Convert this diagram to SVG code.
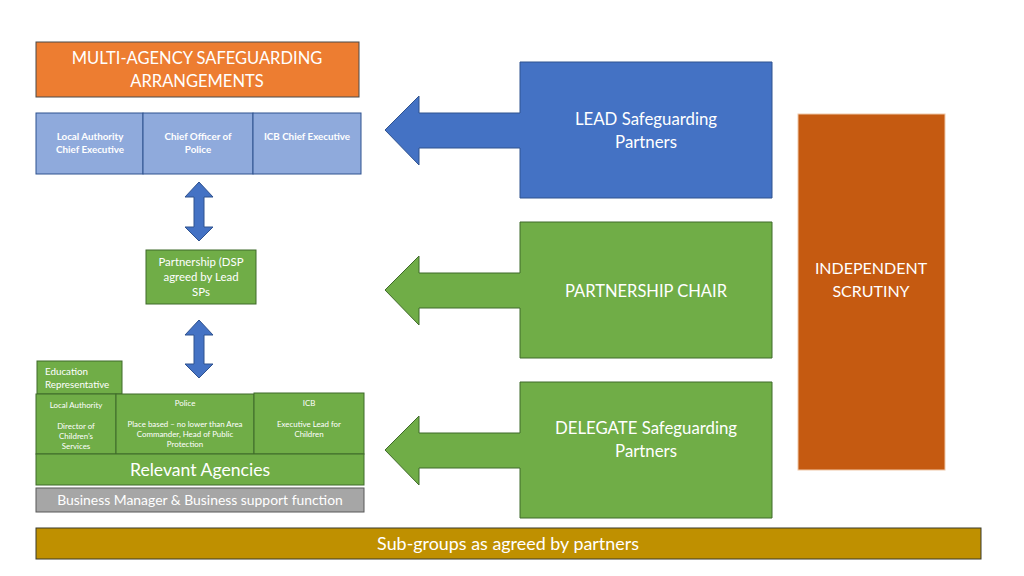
<svg xmlns="http://www.w3.org/2000/svg" width="1024" height="576" viewBox="0 0 1024 576">
<style>
text{font-family:Lato,"Open Sans","Liberation Sans",sans-serif;fill:#fff;text-anchor:middle}
.b{stroke:#2F528F;stroke-width:1}
.g{stroke:#3f6a2a;stroke-width:1}
.blue{fill:#4472C4}
.lblue{fill:#8FAADC}
.green{fill:#70AD47}
.t17{font-size:16.8px}
.t9b{font-size:9.8px;font-weight:bold}
.t7{font-size:7.9px}
</style>
<rect width="1024" height="576" fill="#fff"/>
<g id="connectors">
<polygon id="dbl-arrow-1" class="blue b" points="199,182 213,197 204,197 204,227 213,227 199,241 185,227 194,227 194,197 185,197"/>
<polygon id="dbl-arrow-2" class="blue b" points="199,320 213,335 204,335 204,364 213,364 199,378 185,364 194,364 194,335 185,335"/>
</g>
<g id="title">
<rect x="36" y="42" width="323" height="55" fill="#ED7D31" stroke="#4a4a4a" stroke-width="1"/>
<text font-size="16.5" x="197" y="64">MULTI-AGENCY SAFEGUARDING</text>
<text font-size="16.5" x="197" y="87">ARRANGEMENTS</text>
</g>
<g id="lead-row">
<rect x="36" y="113" width="107" height="61" class="lblue b"/>
<rect x="143" y="113" width="110" height="61" class="lblue b"/>
<rect x="253" y="113" width="108" height="61" class="lblue b"/>
<text class="t9b" x="90" y="140">Local Authority</text>
<text class="t9b" x="90" y="153">Chief Executive</text>
<text class="t9b" x="198" y="140">Chief Officer of</text>
<text class="t9b" x="198" y="153">Police</text>
<text class="t9b" x="307" y="140">ICB Chief Executive</text>
</g>
<g id="partnership">
<rect x="146" y="250" width="110" height="54" class="green g"/>
<text font-size="11.4" x="201" y="266">Partnership (DSP</text>
<text font-size="11.4" x="201" y="281">agreed by Lead</text>
<text font-size="11.4" x="201" y="296">SPs</text>
</g>
<g id="education">
<rect x="37" y="361" width="85" height="33" class="green g"/>
<text font-size="9.8" x="45" y="375" style="text-anchor:start">Education</text>
<text font-size="9.8" x="45" y="388" style="text-anchor:start">Representative</text>
</g>
<g id="agency-row">
<rect x="36" y="394" width="80" height="60" class="green g"/>
<rect x="116" y="394" width="138" height="60" class="green g"/>
<rect x="254" y="393" width="110" height="61" class="green g"/>
<text class="t7" x="76" y="408">Local Authority</text>
<text class="t7" x="76" y="429">Director of</text>
<text class="t7" x="76" y="439">Children’s</text>
<text class="t7" x="76" y="449">Services</text>
<text class="t7" x="185" y="406">Police</text>
<text class="t7" x="185" y="427">Place based – no lower than Area</text>
<text class="t7" x="185" y="437">Commander, Head of Public</text>
<text class="t7" x="185" y="447">Protection</text>
<text class="t7" x="309" y="406">ICB</text>
<text class="t7" x="309" y="427">Executive Lead for</text>
<text class="t7" x="309" y="437">Children</text>
</g>
<g id="relevant-agencies">
<rect x="36" y="454" width="328" height="31" class="green g"/>
<text font-size="17.6" x="200" y="476">Relevant Agencies</text>
</g>
<g id="business">
<rect x="36" y="488" width="328" height="24" fill="#A6A6A6" stroke="#595959" stroke-width="1"/>
<text font-size="13.9" x="200" y="505">Business Manager &amp; Business support function</text>
</g>
<g id="lead-sp">
<path class="blue b" d="M385,130 L419,96 L419,113 L520,113 L520,62 L772,62 L772,198 L520,198 L520,148 L419,148 L419,165 Z"/>
<text class="t17" x="646" y="125">LEAD Safeguarding</text>
<text class="t17" x="646" y="148">Partners</text>
</g>
<g id="partnership-chair">
<path class="green g" d="M385,290 L419,256 L419,273 L520,273 L520,222 L772,222 L772,358 L520,358 L520,308 L419,308 L419,325 Z"/>
<text font-size="16.5" x="646" y="297">PARTNERSHIP CHAIR</text>
</g>
<g id="delegate-sp">
<path class="green g" d="M385,450 L419,416 L419,433 L520,433 L520,382 L772,382 L772,518 L520,518 L520,468 L419,468 L419,485 Z"/>
<text class="t17" x="646" y="434">DELEGATE Safeguarding</text>
<text class="t17" x="646" y="457">Partners</text>
</g>
<g id="independent-scrutiny">
<rect x="798" y="114" width="147" height="356" fill="#C55A11" stroke="#f0c8a8" stroke-width="1"/>
<text font-size="16" x="871" y="274">INDEPENDENT</text>
<text font-size="16" x="871" y="297">SCRUTINY</text>
</g>
<g id="sub-groups">
<rect x="36" y="528" width="945" height="31" fill="#BF9000" stroke="#3a3a2a" stroke-width="1"/>
<text font-size="17.9" x="508" y="550">Sub-groups as agreed by partners</text>
</g>
</svg>
